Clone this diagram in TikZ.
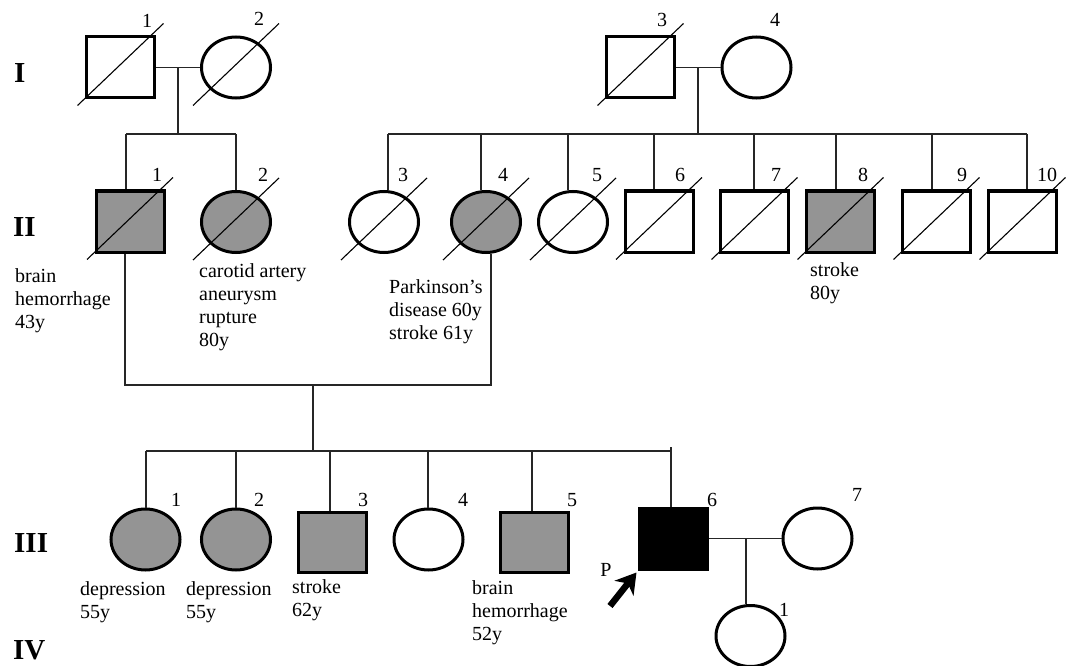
\documentclass[tikz,border=0pt]{standalone}
\usepackage{fontspec}
\setmainfont{Liberation Serif}
\usetikzlibrary{shapes.geometric,arrows.meta}
\definecolor{affgray}{RGB}{148,148,148}
\begin{document}
\begin{tikzpicture}[x=1pt,y=-1pt,
  male/.style={draw, rectangle, line width=3pt, minimum width=68pt, minimum height=61pt, inner sep=0pt},
  female/.style={draw, ellipse, line width=3pt, minimum width=69pt, minimum height=61pt, inner sep=0pt},
  aff/.style={fill=affgray},
  probandfill/.style={fill=black},
  link/.style={line width=1.2pt, black!85},
  slash/.style={line width=1.1pt},
  num/.style={font=\fontsize{20}{20}\selectfont, inner sep=0pt},
  gen/.style={font=\fontsize{29}{29}\selectfont\bfseries, inner sep=0pt, anchor=base west},
  note/.style={font=\fontsize{20}{23}\selectfont, align=left, inner sep=0pt, anchor=north west},
]
\useasboundingbox[fill=white] (0,0) rectangle (1066,666);
\newcommand{\dec}[1]{\draw[slash] ([shift={(-43,38)}]#1.center) -- ([shift={(43,-44)}]#1.center);}

% generation labels
\node[gen] (gI) at (14,83) {I};
\node[gen] (gII) at (13,236) {II};
\node[gen] (gIII) at (14,552) {III};
\node[gen] (gIV) at (13,659) {IV};

% generation I
\node[male] (i1) at (120.5,67.5) {};
\node[female] (i2) at (236,67.5) {};
\node[male] (i3) at (640.5,67.5) {};
\node[female] (i4) at (756.5,67.5) {};
\dec{i1}\dec{i2}\dec{i3}

% generation II
\node[male,aff] (ii1) at (130,221.5) {};
\node[female,aff] (ii2) at (236,222) {};
\node[female] (ii3) at (384,222) {};
\node[female,aff] (ii4) at (486,222) {};
\node[female] (ii5) at (573,222) {};
\node[male] (ii6) at (659,221.5) {};
\node[male] (ii7) at (754.5,221.5) {};
\node[male,aff] (ii8) at (840.5,221.5) {};
\node[male] (ii9) at (936.5,221.5) {};
\node[male] (ii10) at (1022.5,221.5) {};
\dec{ii1}\dec{ii2}\dec{ii3}\dec{ii4}\dec{ii5}\dec{ii6}\dec{ii7}\dec{ii8}\dec{ii9}\dec{ii10}

% generation III
\node[female,aff] (iii1) at (145.5,539.5) {};
\node[female,aff] (iii2) at (236,539.5) {};
\node[male,aff,minimum height=60pt] (iii3) at (332.5,542) {};
\node[female] (iii4) at (428.5,539.5) {};
\node[male,aff,minimum height=60pt] (iii5) at (534.5,542) {};
\node[male,probandfill] (iii6) at (673,538.5) {};
\node[female] (iii7) at (817.5,538.5) {};

% generation IV
\node[female] (iv1) at (750.5,636) {};

% connectors: generation I -> II (left)
\draw[link] (i1.east) -- (i2.west);
\coordinate (m1) at (178,67.5);
\coordinate (s1) at (178,134);
\draw[link] (m1) -- (s1);
\coordinate (s1l) at (126,134);
\coordinate (s1r) at (236,134);
\draw[link] (s1l) -- (s1r);
\draw[link] (s1l) -- (s1l |- ii1.north);
\draw[link] (s1r) -- (s1r |- ii2.north);

% connectors: generation I -> II (right)
\draw[link] (i3.east) -- (i4.west);
\coordinate (m2) at (698,67.5);
\coordinate (s2) at (698,134);
\draw[link] (m2) -- (s2);
\coordinate (s2l) at (388,134);
\coordinate (s2r) at (1027,134);
\draw[link] (s2l) -- (s2r);
\draw[link] (s2l) -- (s2l |- ii3.north);
\coordinate (c4) at (481,134);  \draw[link] (c4) -- (c4 |- ii4.north);
\coordinate (c5) at (568,134);  \draw[link] (c5) -- (c5 |- ii5.north);
\coordinate (c6) at (654,134);  \draw[link] (c6) -- (c6 |- ii6.north);
\coordinate (c7) at (754,134);  \draw[link] (c7) -- (c7 |- ii7.north);
\coordinate (c8) at (836,134);  \draw[link] (c8) -- (c8 |- ii8.north);
\coordinate (c9) at (932,134);  \draw[link] (c9) -- (c9 |- ii9.north);
\draw[link] (s2r) -- (s2r |- ii10.north);

% connectors: II-1 x II-4 -> III
\coordinate (u1) at (125,385);
\coordinate (u4) at (491,385);
\draw[link] (u1 |- ii1.south) -- (u1) -- (u4) -- (u4 |- ii4.south);
\coordinate (m3) at (313,385);
\coordinate (s3) at (313,451);
\draw[link] (m3) -- (s3);
\coordinate (s3l) at (146,451);
\coordinate (s3r) at (671,451);
\draw[link] (s3l) -- (s3r);
\draw[link] (s3l) -- (s3l |- iii1.north);
\coordinate (d2) at (236,451);  \draw[link] (d2) -- (d2 |- iii2.north);
\coordinate (d3) at (330,451);  \draw[link] (d3) -- (d3 |- iii3.north);
\coordinate (d4) at (428,451);  \draw[link] (d4) -- (d4 |- iii4.north);
\coordinate (d5) at (532,451);  \draw[link] (d5) -- (d5 |- iii5.north);
\coordinate (d6) at (671,447);  \draw[link] (d6) -- (d6 |- iii6.north);

% III-6 x III-7 -> IV-1
\draw[link] (iii6.east) -- (iii7.west);
\coordinate (m4) at (746,538.5);
\draw[link] (m4) -- (m4 |- iv1.north);

% proband arrow
\coordinate (parrow) at (610,606);
\draw[line width=6.5pt, -{Stealth[length=20pt, width=24pt, inset=6pt]}] (parrow) -- ([shift={(-1,2)}]iii6.south west);
\node[num] (pl) at (606,569.5) {P};

% numbers
\node[num] (n-i1) at (147,21) {1};
\node[num] (n-i2) at (259,19) {2};
\node[num] (n-i3) at (662,20) {3};
\node[num] (n-i4) at (775,20) {4};
\node[num] (n-ii1) at (157,175) {1};
\node[num] (n-ii2) at (263,175) {2};
\node[num] (n-ii3) at (403,175) {3};
\node[num] (n-ii4) at (503,175) {4};
\node[num] (n-ii5) at (597,175) {5};
\node[num] (n-ii6) at (680,175) {6};
\node[num] (n-ii7) at (776,175) {7};
\node[num] (n-ii8) at (863,175) {8};
\node[num] (n-ii9) at (962,175) {9};
\node[num] (n-ii10) at (1047,175) {10};
\node[num] (n-iii1) at (176,500) {1};
\node[num] (n-iii2) at (259,500) {2};
\node[num] (n-iii3) at (363,500) {3};
\node[num] (n-iii4) at (463,500) {4};
\node[num] (n-iii5) at (572,500) {5};
\node[num] (n-iii6) at (712,500) {6};
\node[num] (n-iii7) at (857,495) {7};
\node[num] (n-iv1) at (784,610) {1};

% notes
\node[note] (t-ii1) at (15,268) {brain\\hemorrhage\\43y};
\node[note] (t-ii2) at (199,263) {carotid artery\\aneurysm\\rupture\\80y};
\node[note] (t-ii4) at (389,279) {Parkinson’s\\disease 60y\\stroke 61y};
\node[note] (t-ii8) at (810,262) {stroke\\80y};
\node[note] (t-iii1) at (80,581) {depression\\55y};
\node[note] (t-iii2) at (186,581) {depression\\55y};
\node[note] (t-iii3) at (292,579) {stroke\\62y};
\node[note] (t-iii5) at (472,580) {brain\\hemorrhage\\52y};
\end{tikzpicture}
\end{document}
